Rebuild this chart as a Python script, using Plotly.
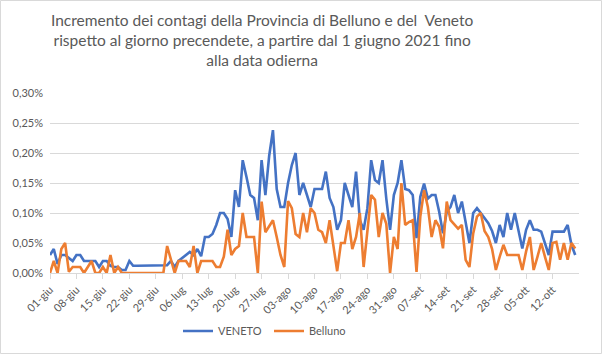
import pandas as pd
import plotly.graph_objects as go

start_date = "2021-06-01"

veneto = [
    0.030, 0.040, 0.015, 0.030, 0.030, 0.025, 0.020, 0.030, 0.030, 0.020,
    0.020, 0.020, 0.020, 0.010, 0.020, 0.020, 0.012, 0.010, 0.010, 0.005,
    0.005, 0.020, 0.012, 0.012, 0.012, 0.012, 0.012, 0.012, 0.012, 0.012,
    0.012, 0.013, 0.020, 0.010, 0.020, 0.025, 0.030, 0.035, 0.030, 0.040,
    0.028, 0.060, 0.060, 0.065, 0.080, 0.100, 0.100, 0.090, 0.060, 0.138,
    0.110, 0.188, 0.160, 0.130, 0.125, 0.088, 0.188, 0.130, 0.195, 0.238,
    0.140, 0.110, 0.110, 0.150, 0.180, 0.200, 0.130, 0.150, 0.130, 0.110,
    0.140, 0.140, 0.140, 0.169, 0.125, 0.110, 0.072, 0.088, 0.150, 0.130,
    0.110, 0.169, 0.088, 0.072, 0.108, 0.188, 0.155, 0.150, 0.188, 0.124,
    0.072, 0.130, 0.150, 0.188, 0.140, 0.138, 0.130, 0.058, 0.127, 0.149,
    0.124, 0.130, 0.130, 0.102, 0.066, 0.102, 0.110, 0.130, 0.100, 0.119,
    0.086, 0.050, 0.100, 0.108, 0.100, 0.091, 0.083, 0.070, 0.050, 0.080,
    0.060, 0.100, 0.072, 0.100, 0.072, 0.041, 0.072, 0.088, 0.072, 0.072,
    0.069, 0.050, 0.030, 0.069, 0.069, 0.069, 0.069, 0.080, 0.047, 0.030,
]

belluno = [
    0.000, 0.020, 0.000, 0.040, 0.050, 0.002, 0.010, 0.010, 0.010, 0.000,
    0.010, 0.020, 0.000, 0.000, 0.010, 0.000, 0.030, 0.000, 0.010, 0.000,
    0.000, 0.000, 0.000, 0.000, 0.000, 0.000, 0.000, 0.000, 0.000, 0.000,
    0.000, 0.045, 0.020, 0.000, 0.020, 0.020, 0.020, 0.010, 0.045, 0.000,
    0.020, 0.020, 0.020, 0.020, 0.010, 0.010, 0.027, 0.072, 0.030, 0.040,
    0.045, 0.100, 0.060, 0.060, 0.060, 0.000, 0.119, 0.068, 0.078, 0.088,
    0.060, 0.030, 0.010, 0.120, 0.108, 0.065, 0.060, 0.100, 0.068, 0.108,
    0.100, 0.072, 0.068, 0.050, 0.088, 0.045, 0.003, 0.050, 0.050, 0.088,
    0.040, 0.060, 0.100, 0.010, 0.075, 0.130, 0.122, 0.060, 0.100, 0.082,
    0.000, 0.060, 0.040, 0.150, 0.080, 0.085, 0.088, 0.002, 0.094, 0.138,
    0.110, 0.060, 0.088, 0.077, 0.041, 0.119, 0.088, 0.080, 0.074, 0.080,
    0.022, 0.010, 0.066, 0.094, 0.100, 0.070, 0.060, 0.040, 0.005, 0.027,
    0.047, 0.030, 0.030, 0.030, 0.030, 0.005, 0.036, 0.060, 0.005, 0.027,
    0.050, 0.027, 0.005, 0.050, 0.052, 0.022, 0.050, 0.022, 0.050, 0.041,
]

tick_labels = ["01-giu", "08-giu", "15-giu", "22-giu", "29-giu", "06-lug", "13-lug",
               "20-lug", "27-lug", "03-ago", "10-ago", "17-ago", "24-ago", "31-ago",
               "07-set", "14-set", "21-set", "28-set", "05-ott", "12-ott"]

title_lines = ["Incremento dei contagi della Provincia di Belluno e del  Veneto",
               "rispetto al giorno precendete, a partire dal 1 giugno 2021 fino",
               "alla data odierna"]

dates = pd.date_range(start_date, periods=len(veneto), freq="D")
tick_vals = pd.date_range(start_date, periods=len(tick_labels), freq="7D")
x_end = pd.Timestamp(start_date) + pd.Timedelta(days=140)

# percent values -> fractions
v = [x / 100 for x in veneto]
b = [x / 100 for x in belluno]

txt = "#595959"
grid = "#D9D9D9"
fam = "Lato, sans-serif"

fig = go.Figure()
fig.add_trace(go.Scatter(x=dates, y=v, mode="lines", name="VENETO",
                         line=dict(color="#4472C4", width=2.6)))
fig.add_trace(go.Scatter(x=dates, y=b, mode="lines", name="Belluno",
                         line=dict(color="#ED7D31", width=2.6)))

W, H = 602, 354
L, R, T, B = 50, 23, 93, 81
pw, ph = W - L - R, H - T - B

def py(y_px):
    return (H - B - y_px) / ph

def px(x_px):
    return (x_px - L) / pw

fig.update_layout(
    width=W, height=H,
    margin=dict(l=L, r=R, t=T, b=B, autoexpand=False),
    paper_bgcolor="white", plot_bgcolor="white",
    separators=",.",
    font=dict(family=fam, color=txt, size=11),
    legend=dict(orientation="h", x=px(178), xanchor="left", y=py(331), yanchor="middle",
                font=dict(size=11, color=txt, family=fam), traceorder="normal",
                entrywidth=46, entrywidthmode="pixels"),
    showlegend=True,
)

fig.add_annotation(
    text="<br>".join(title_lines), xref="paper", yref="paper",
    x=px(W / 2 - 39), y=py(9), xanchor="center", yanchor="top",
    showarrow=False, align="center",
    font=dict(size=15.5, color=txt, family=fam),
)

fig.update_xaxes(
    range=[dates[0], x_end],
    tickmode="array", tickvals=tick_vals, ticktext=tick_labels,
    tickangle=-45, tickfont=dict(size=11, color=txt, family=fam),
    showgrid=False, showline=True, linecolor=grid, linewidth=1,
    ticks="outside", ticklen=5, tickcolor=grid,
    zeroline=False,
)
fig.update_yaxes(
    range=[0, 0.003], dtick=0.0005, tickformat=".2%",
    tickfont=dict(size=11, color=txt, family=fam),
    showgrid=True, gridcolor=grid, gridwidth=1,
    zeroline=False, showline=False, ticks="", ticklabelstandoff=6,
)

# chart border
fig.add_shape(type="rect", xref="paper", yref="paper",
              x0=px(0.5), x1=px(W - 0.5),
              y0=py(H - 0.5), y1=py(0.5),
              line=dict(color=grid, width=1), layer="below")

fig.write_html("out.html")
